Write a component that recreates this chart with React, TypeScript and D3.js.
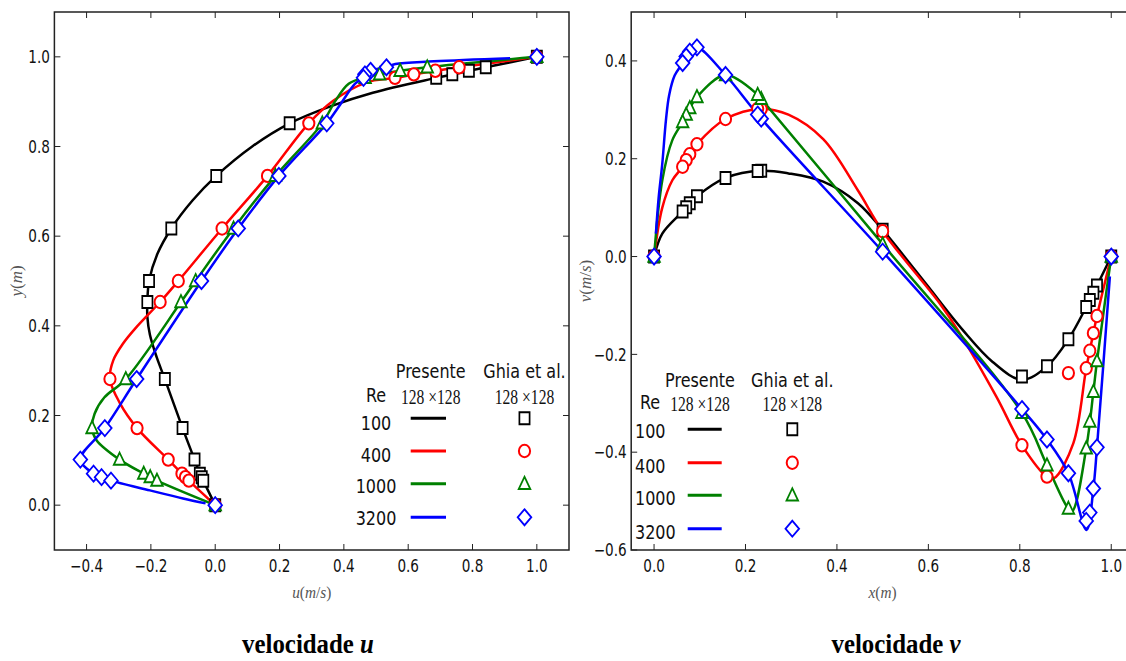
import React, { useEffect, useRef } from 'react';
import * as d3 from 'd3';

// Reynolds numbers, colours and Ghia marker symbols
const reLabels = ['100', '400', '1000', '3200'];
const colors = ['#000000', '#ff0000', '#008000', '#0000ff'];
const symbols = ['square', 'circle', 'triangle', 'diamond'];

// Ghia et al. (1982), u along the vertical centre line
const ghiaY = [1.0, 0.9766, 0.9688, 0.9609, 0.9531, 0.8516, 0.7344, 0.6172, 0.5, 0.4531, 0.2813, 0.1719, 0.1016, 0.0703, 0.0625, 0.0547, 0.0];
const ghiaU100 = [1.0, 0.84123, 0.78871, 0.73722, 0.68717, 0.23151, 0.00332, -0.13641, -0.20581, -0.2109, -0.15662, -0.1015, -0.06434, -0.04775, -0.04192, -0.03717, 0.0];
const ghiaU400 = [1.0, 0.75837, 0.68439, 0.61756, 0.55892, 0.29093, 0.16256, 0.02135, -0.11477, -0.17119, -0.32726, -0.24299, -0.14612, -0.10338, -0.09266, -0.08186, 0.0];
const ghiaU1000 = [1.0, 0.65928, 0.57492, 0.51117, 0.46604, 0.33304, 0.18719, 0.05702, -0.0608, -0.10648, -0.27805, -0.38289, -0.2973, -0.2222, -0.20196, -0.18109, 0.0];
const ghiaU3200 = [1.0, 0.53236, 0.48296, 0.46547, 0.46101, 0.34682, 0.19791, 0.07156, -0.04272, null, -0.24427, -0.34323, -0.41933, -0.37827, -0.35344, -0.32407, 0.0];

// Ghia et al. (1982), v along the horizontal centre line
const ghiaX = [1.0, 0.9688, 0.9609, 0.9531, 0.9453, 0.9063, 0.8594, 0.8047, 0.5, 0.2344, 0.2266, 0.1563, 0.0938, 0.0781, 0.0703, 0.0625, 0.0];
const ghiaV100 = [0.0, -0.05906, -0.07391, -0.08864, -0.10313, -0.16914, -0.22445, -0.24533, 0.05454, 0.17527, 0.17507, 0.16077, 0.12317, 0.1089, 0.10091, 0.09233, 0.0];
const ghiaV400 = [0.0, -0.12146, -0.15663, -0.19254, -0.22847, -0.23827, -0.44993, -0.38598, 0.05188, 0.30174, 0.30203, 0.28124, 0.22965, 0.2092, 0.19713, 0.1836, 0.0];
const ghiaV1000 = [0.0, -0.21388, -0.27669, -0.33714, -0.39188, -0.5155, -0.42665, -0.31966, 0.02526, 0.32235, 0.33075, 0.37095, 0.32627, 0.30353, 0.29012, 0.27485, 0.0];
const ghiaV3200 = [0.0, -0.39017, -0.47425, -0.52357, -0.54053, -0.44307, -0.37401, -0.31184, 0.00999, 0.28188, 0.2903, 0.37119, 0.42768, 0.41906, 0.40917, 0.3956, 0.0];

// Presente 128x128, [y, u]
const presU100 = [[0, 0], [0.0547, -0.0372], [0.0703, -0.0478], [0.1016, -0.0643], [0.1719, -0.1015], [0.2813, -0.1566], [0.33, -0.182], [0.38, -0.203], [0.42, -0.211], [0.4531, -0.2109], [0.5, -0.2058], [0.56, -0.18], [0.6172, -0.1364], [0.68, -0.07], [0.7344, 0.0033], [0.8, 0.115], [0.8516, 0.2315], [0.89, 0.36], [0.92, 0.49], [0.9531, 0.687], [0.9688, 0.789], [0.9766, 0.841], [1.0, 1.0]];
const presU400 = [[0, 0], [0.0547, -0.0819], [0.0703, -0.1034], [0.1016, -0.1461], [0.1719, -0.243], [0.227, -0.296], [0.2813, -0.3273], [0.323, -0.317], [0.36, -0.287], [0.397, -0.245], [0.4531, -0.1712], [0.5, -0.1148], [0.6172, 0.0214], [0.7344, 0.1626], [0.8516, 0.2909], [0.902, 0.367], [0.943, 0.471], [0.9531, 0.5589], [0.9688, 0.6844], [0.9766, 0.7584], [1.0, 1.0]];
const presU1000 = [[0, 0], [0.0547, -0.1811], [0.0703, -0.2222], [0.1016, -0.2973], [0.145, -0.369], [0.1719, -0.3829], [0.204, -0.375], [0.24, -0.345], [0.2813, -0.278], [0.4531, -0.1065], [0.5, -0.0608], [0.6172, 0.057], [0.7344, 0.1872], [0.8516, 0.333], [0.9, 0.372], [0.94, 0.415], [0.955, 0.47], [0.9609, 0.511], [0.9688, 0.575], [0.9766, 0.659], [1.0, 1.0]];
const presU3200 = [[0.004, -0.03], [0.015, -0.1], [0.033, -0.203], [0.0547, -0.3241], [0.0625, -0.3534], [0.0703, -0.3783], [0.1016, -0.4193], [0.1719, -0.3432], [0.2813, -0.2443], [0.5, -0.0427], [0.6172, 0.0716], [0.7344, 0.1979], [0.8516, 0.3468], [0.895, 0.39], [0.94, 0.435], [0.9531, 0.461], [0.9688, 0.483], [0.9766, 0.532], [0.984, 0.56], [0.99, 0.68], [0.997, 0.917]];

// Presente 128x128, [x, v]
const presV100 = [[0, 0], [0.018, 0.047], [0.0625, 0.0923], [0.0781, 0.1089], [0.0938, 0.1232], [0.1563, 0.1608], [0.2344, 0.1753], [0.294, 0.17], [0.37, 0.153], [0.446, 0.109], [0.5, 0.0545], [0.55, -0.003], [0.6, -0.062], [0.675, -0.15], [0.74, -0.215], [0.8047, -0.252], [0.8594, -0.2245], [0.9063, -0.1691], [0.9453, -0.1031], [0.9609, -0.0739], [1.0, 0]];
const presV400 = [[0, 0], [0.018, 0.1], [0.04, 0.156], [0.0625, 0.1836], [0.0781, 0.2092], [0.0938, 0.2297], [0.1563, 0.2812], [0.2344, 0.3017], [0.294, 0.29], [0.37, 0.24], [0.446, 0.135], [0.5, 0.0519], [0.625, -0.096], [0.664, -0.15], [0.749, -0.287], [0.8047, -0.386], [0.8594, -0.45], [0.875, -0.453], [0.917, -0.382], [0.9453, -0.2285], [0.9609, -0.1566], [0.9688, -0.1215], [1.0, 0]];
const presV1000 = [[0, 0], [0.018, 0.156], [0.04, 0.238], [0.0625, 0.2749], [0.0781, 0.3035], [0.0938, 0.3263], [0.1563, 0.371], [0.2266, 0.3308], [0.2344, 0.3224], [0.5, 0.0253], [0.8047, -0.3197], [0.8594, -0.4267], [0.9063, -0.5155], [0.915, -0.52], [0.9453, -0.3919], [0.9609, -0.2767], [0.9688, -0.2139], [1.0, 0]];
const presV3200 = [[0.004, 0.047], [0.01, 0.12], [0.018, 0.19], [0.026, 0.279], [0.033, 0.33], [0.045, 0.37], [0.0625, 0.3956], [0.0781, 0.4191], [0.0938, 0.4277], [0.1563, 0.3712], [0.2344, 0.2819], [0.5, 0.01], [0.8047, -0.3118], [0.8594, -0.374], [0.9063, -0.4431], [0.946, -0.559], [0.9609, -0.4743], [0.9688, -0.3902], [0.997, -0.041]];

// tick values
const uTicks = [-0.4, -0.2, 0, 0.2, 0.4, 0.6, 0.8, 1.0];
const yTicks = [0, 0.2, 0.4, 0.6, 0.8, 1.0];
const xTicks = [0, 0.2, 0.4, 0.6, 0.8, 1.0];
const vTicks = [-0.6, -0.4, -0.2, 0, 0.2, 0.4];

const SX = 0.8; // horizontal squeeze of the original figure
const SANS = 'DejaVu Sans';
const SERIF = 'Liberation Serif';

const shapes: Record<string, string> = {
  square: 'M-6,-6h12v12h-12z',
  triangle: 'M0,-7L6.8,5.2L-6.8,5.2Z',
  diamond: 'M0,-8L8,0L0,8L-8,0Z',
};

function marker(g: any, kind: string, x: number, y: number, color: string) {
  const el = kind === 'circle'
    ? g.append('ellipse').attr('rx', 5.6).attr('ry', 6.2)
    : g.append('path').attr('d', shapes[kind]).attr('transform', `translate(${x},${y}) scale(0.85,1)`);
  if (kind === 'circle') el.attr('cx', x).attr('cy', y);
  el.attr('fill', 'white').attr('stroke', color).attr('stroke-width', 2);
}

function text(g: any, x: number, y: number, s: string, size: number, family: string, anchor = 'middle', sx = SX) {
  return g.append('text')
    .attr('transform', `translate(${x},${y}) scale(${sx},1)`)
    .attr('text-anchor', anchor)
    .attr('font-family', family)
    .attr('font-size', size)
    .attr('fill', '#111')
    .text(s);
}

const App = () => {
  const svgRef = useRef<SVGSVGElement>(null);

  useEffect(() => {
    const svg = d3.select(svgRef.current);
    svg.selectAll('*').remove();
    svg.append('rect').attr('width', 1126).attr('height', 661).attr('fill', 'white');

    const xL = d3.scaleLinear().domain([-0.5, 1.1]).range([54.4, 569]);
    const yL = d3.scaleLinear().domain([-0.1, 1.1]).range([550, 12]);
    const xR = d3.scaleLinear().domain([-0.05, 1.05]).range([631.2, 1134.1]);
    const yR = d3.scaleLinear().domain([-0.6, 0.5]).range([550, 12]);
    const fmt = d3.format('.1f');

    const frame = (xs: any, ys: any, xt: number[], yt: number[], id: string) => {
      const [xa, xb] = xs.range();
      const [ya, yb] = ys.range();
      const g = svg.append('g');
      svg.append('clipPath').attr('id', id).append('rect')
        .attr('x', xa).attr('y', yb).attr('width', xb - xa).attr('height', ya - yb);
      g.append('rect').attr('x', xa).attr('y', yb).attr('width', xb - xa).attr('height', ya - yb)
        .attr('fill', 'none').attr('stroke', '#222').attr('stroke-width', 1.5);
      xt.forEach(v => {
        const x = xs(v);
        g.append('line').attr('x1', x).attr('x2', x).attr('y1', ya).attr('y2', ya - 6).attr('stroke', '#222');
        g.append('line').attr('x1', x).attr('x2', x).attr('y1', yb).attr('y2', yb + 6).attr('stroke', '#222');
        text(g, x, 571.5, fmt(v), 17, SANS);
      });
      yt.forEach(v => {
        const y = ys(v);
        g.append('line').attr('x1', xa).attr('x2', xa + 6).attr('y1', y).attr('y2', y).attr('stroke', '#222');
        g.append('line').attr('x1', xb).attr('x2', xb - 6).attr('y1', y).attr('y2', y).attr('stroke', '#222');
        text(g, xa - 4.5, y + 6.2, fmt(v), 17, SANS, 'end');
      });
    };

    frame(xL, yL, uTicks, yTicks, 'clipL');
    frame(xR, yR, xTicks, vTicks, 'clipR');

    // Presente lines
    const presLeft = [presU100, presU400, presU1000, presU3200];
    const presRight = [presV100, presV400, presV1000, presV3200];
    const lineL = d3.line<number[]>().x(d => xL(d[1])).y(d => yL(d[0])).curve(d3.curveCatmullRom.alpha(0.5));
    const lineR = d3.line<number[]>().x(d => xR(d[0])).y(d => yR(d[1])).curve(d3.curveCatmullRom.alpha(0.5));
    const gl = svg.append('g').attr('clip-path', 'url(#clipL)');
    const gr = svg.append('g').attr('clip-path', 'url(#clipR)');
    presLeft.forEach((p, i) => gl.append('path').attr('d', lineL(p)).attr('fill', 'none')
      .attr('stroke', colors[i]).attr('stroke-width', 2.5));
    presRight.forEach((p, i) => gr.append('path').attr('d', lineR(p)).attr('fill', 'none')
      .attr('stroke', colors[i]).attr('stroke-width', 2.5));

    // Ghia markers
    const ghiaLeft = [ghiaU100, ghiaU400, ghiaU1000, ghiaU3200];
    const ghiaRight = [ghiaV100, ghiaV400, ghiaV1000, ghiaV3200];
    ghiaLeft.forEach((us, i) => us.forEach((u, k) => {
      if (u === null) return;
      marker(gl, symbols[i], xL(u), yL(ghiaY[k]), colors[i]);
    }));
    ghiaRight.forEach((vs, i) => vs.forEach((v, k) => {
      marker(gr, symbols[i], xR(ghiaX[k]), yR(v), colors[i]);
    }));

    // legends
    const legend = (cx1: number, cx2: number, reX: number, reAnchor: string, yHead: number, yRe: number,
      rowY: number[], lineY: number[], lx1: number, lx2: number) => {
      const g = svg.append('g');
      text(g, cx1, yHead, 'Presente', 20, SANS);
      text(g, cx2, yHead, 'Ghia et al.', 20, SANS);
      text(g, reAnchor === 'middle' ? reX : reX + 15, yRe, 'Re', 20, SANS);
      text(g, cx1, yRe + 1.5, '128 ×128', 20, SERIF, 'middle', 0.78);
      text(g, cx2, yRe + 1.5, '128 ×128', 20, SERIF, 'middle', 0.78);
      reLabels.forEach((r, i) => {
        text(g, reX, rowY[i], r, 20, SANS, reAnchor);
        g.append('line').attr('x1', lx1).attr('x2', lx2).attr('y1', lineY[i]).attr('y2', lineY[i])
          .attr('stroke', colors[i]).attr('stroke-width', 3);
        marker(g, symbols[i], cx2, lineY[i], colors[i]);
      });
    };
    legend(430.7, 524.5, 376, 'middle', 378, 402, [430, 461.7, 492.7, 525], [418.3, 451, 483.7, 517.3], 410.7, 446);
    legend(700, 792.3, 635, 'start', 386.7, 409, [438.3, 473, 505, 539], [429.3, 462.7, 495.3, 528.7], 687.7, 721.7);

    // axis labels, mathtext style
    const mathLabel = (x: number, y: number, parts: [string, boolean][], rotate = false) => {
      const t = svg.append('text')
        .attr('transform', rotate ? `translate(${x},${y}) rotate(-90)` : `translate(${x},${y}) scale(0.9,1)`)
        .attr('text-anchor', 'middle').attr('font-family', SERIF).attr('font-size', 17).attr('fill', '#555');
      parts.forEach(([s, it]) => t.append('tspan').attr('font-style', it ? 'italic' : 'normal').text(s));
    };
    mathLabel(311.7, 598, [['u', true], ['(', false], ['m', true], ['/', false], ['s', true], [')', false]]);
    mathLabel(882.6, 598, [['x', true], ['(', false], ['m', true], [')', false]]);
    mathLabel(22, 281, [['y', true], ['(', false], ['m', true], [')', false]], true);
    mathLabel(591, 281, [['v', true], ['(', false], ['m', true], ['/', false], ['s', true], [')', false]], true);

    // titles
    const title = (x: number, s: string, v: string) => {
      const t = svg.append('text').attr('transform', `translate(${x},653) scale(0.92,1)`)
        .attr('text-anchor', 'middle').attr('font-family', SERIF).attr('font-size', 27)
        .attr('font-weight', 'bold').attr('fill', '#000');
      t.append('tspan').text(s);
      t.append('tspan').attr('font-style', 'italic').text(v);
    };
    title(308, 'velocidade ', 'u');
    title(896, 'velocidade ', 'v');
  }, []);

  return (
    <div style={{ position: 'absolute', left: 0, top: 0 }}>
      <svg ref={svgRef} width={1126} height={661} />
    </div>
  );
};

export default App;
